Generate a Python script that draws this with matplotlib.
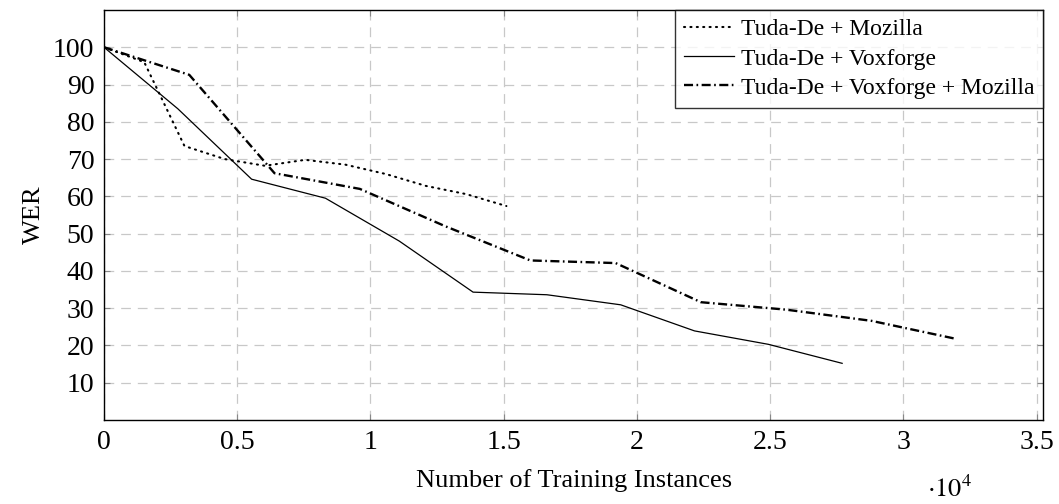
import matplotlib
matplotlib.use("Agg")
import matplotlib.pyplot as plt

plt.rcParams['font.family'] = ['Liberation Serif', 'DejaVu Serif']
plt.rcParams['mathtext.fontset'] = 'stix'
plt.rcParams['lines.scale_dashes'] = False

# training instances (x 10^4) and WER
moz_x = [0, 0.151, 0.302, 0.453, 0.604, 0.755, 0.906, 1.057, 1.208, 1.359, 1.51]
moz_y = [100, 96, 73.5, 70, 68.2, 69.8, 68.5, 66, 62.8, 60.6, 57.4]

vox_x = [0, 0.277, 0.554, 0.831, 1.108, 1.385, 1.662, 1.939, 2.216, 2.493, 2.77]
vox_y = [100, 83.5, 64.6, 59.5, 48, 34.3, 33.6, 30.9, 23.9, 20.3, 15.2]

all_x = [0, 0.32, 0.64, 0.96, 1.28, 1.60, 1.92, 2.24, 2.56, 2.88, 3.195]
all_y = [100, 92.6, 66.2, 62, 52, 42.8, 42.1, 31.6, 29.6, 26.6, 21.8]

xticks = [0, 0.5, 1, 1.5, 2, 2.5, 3, 3.5]
xticklabels = ['0', '0.5', '1', '1.5', '2', '2.5', '3', '3.5']
yticks = [10, 20, 30, 40, 50, 60, 70, 80, 90, 100]

fig = plt.figure(figsize=(10.59, 5.04), dpi=100)
ax = fig.add_axes([0.0982, 0.1667, 0.8870, 0.8135])

ax.plot(moz_x, moz_y, color='black', lw=1.5, linestyle=(0, (0.8, 3.8)),
        dash_capstyle='round', label='Tuda-De + Mozilla')
ax.plot(vox_x, vox_y, color='black', lw=0.9, label='Tuda-De + Voxforge')
ax.plot(all_x, all_y, color='black', lw=1.7, linestyle=(0, (6.5, 2.5, 1.2, 2.5)),
        label='Tuda-De + Voxforge + Mozilla')

ax.set_xlim(0, 3.525)
ax.set_ylim(0, 110)
ax.set_xticks(xticks)
ax.set_xticklabels(xticklabels)
ax.set_yticks(yticks)
ax.grid(True, color='#c8c8c8', linestyle=(0, (7, 5)), lw=0.9)
ax.tick_params(direction='in', length=4, width=0.8, color='#888888',
               top=True, right=True, labelsize=20, pad=7)
for s in ax.spines.values():
    s.set_linewidth(1.0)

ax.set_xlabel('Number of Training Instances', fontsize=19, labelpad=10)
ax.set_ylabel('WER', fontsize=19, labelpad=6)
ax.text(0.876, -0.168, r'$\cdot10^4$', transform=ax.transAxes, fontsize=19,
        ha='left', va='center')

leg = ax.legend(loc='upper right', fontsize=17, frameon=True, fancybox=False,
                borderaxespad=0, handlelength=2.1, handletextpad=0.3,
                labelspacing=0.32, borderpad=0.38)
leg.get_frame().set_edgecolor('black')
leg.get_frame().set_linewidth(1.0)

fig.savefig('out.png', dpi=100)
